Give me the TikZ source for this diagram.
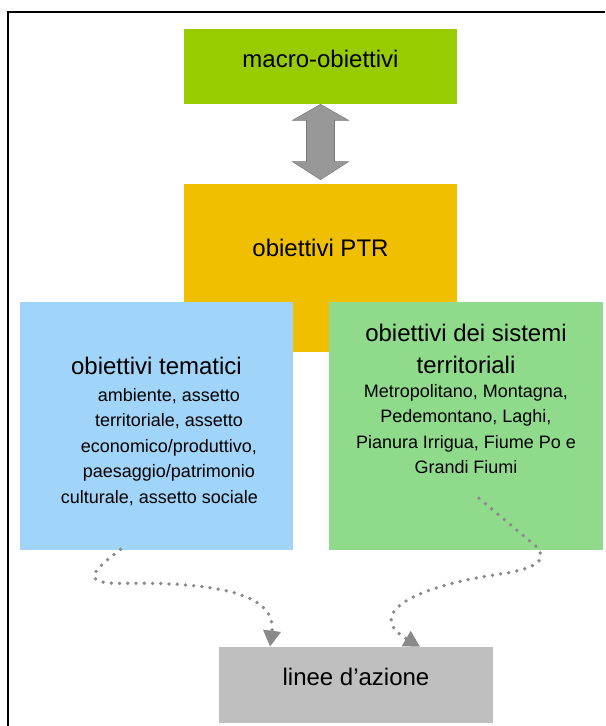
\documentclass[tikz,border=0pt]{standalone}
\usepackage{fontspec}
\setmainfont{Liberation Sans}
\usepackage{tikz}
\usetikzlibrary{arrows.meta, calc}
\definecolor{macrogreen}{RGB}{153,204,0}
\definecolor{ptryellow}{RGB}{240,192,0}
\definecolor{tematiciblue}{RGB}{160,212,248}
\definecolor{sistemigreen}{RGB}{144,218,140}
\definecolor{azionegrey}{RGB}{191,191,191}
\definecolor{arrowgrey}{RGB}{152,152,152}
\newcommand\ttl{\fontsize{13.66pt}{14.57pt}\selectfont}
\newcommand\sbt{\fontsize{10.24pt}{14.57pt}\selectfont}

\begin{document}
\begin{tikzpicture}[x=0.02cm, y=-0.02cm,
    box/.style={minimum width=5.46cm, inner sep=0pt, align=center, font=\ttl},
    dots/.style={draw=arrowgrey!90!black, line width=0.075cm, line cap=round,
                 dash pattern=on 0pt off 0.165cm,
                 -{Triangle[length=0.32cm, width=0.34cm]}}]
  \useasboundingbox (0,0) rectangle (605,726);
  % frame
  \draw[line width=0.04cm] (8,726) |- (605,12);

  \node[box, fill=macrogreen, minimum height=1.5cm, text depth=0.29cm] (macro) at (320.5,66.5) {macro-obiettivi};
  \node[box, fill=ptryellow, minimum height=3.36cm, text depth=0.79cm] (ptr) at (320.5,268) {obiettivi PTR};

  % double block arrow
  \filldraw[fill=arrowgrey, draw=arrowgrey!80!black, line width=0.3pt]
    (macro.south) -- ++(28,16) -- ++(-14,0) -- ($(ptr.north)+(14,-22)$) -- ++(14,0)
    -- ($(ptr.north)+(0,-4)$) -- ++(-28,-18) -- ++(14,0) -- ($(macro.south)+(-14,16)$)
    -- ++(-14,0) -- cycle;

  \node[box, fill=tematiciblue, minimum height=4.96cm, font=\sbt] (tematici) at (156.5,426)
    {{\ttl\rule{0pt}{0.56cm}obiettivi tematici}\\[0.028cm]
     \hspace*{0.5cm}ambiente, assetto\\
     \hspace*{0.5cm}territoriale, assetto\\
     \hspace*{0.5cm}economico/produttivo,\\
     \hspace*{0.5cm}paesaggio/patrimonio\\
     \hspace*{0.12cm}culturale, assetto sociale\rule[-0.052cm]{0pt}{0.052cm}};
  \node[box, fill=sistemigreen, minimum width=5.48cm, minimum height=4.96cm, font=\sbt] (sistemi) at (466,426)
    {{\ttl\rule{0pt}{0.4cm}obiettivi dei sistemi}\\[0.128cm]
     {\ttl territoriali}\\[-0.032cm]
     Metropolitano, Montagna,\\
     Pedemontano, Laghi,\\
     Pianura Irrigua, Fiume Po e\\
     Grandi Fiumi\rule[-1.144cm]{0pt}{1.144cm}};
  \node[box, fill=azionegrey, minimum width=5.48cm, minimum height=1.52cm, text depth=0.31cm] (azione) at (356,685) {linee d’azione};

  % dotted connectors
  \draw[dots] ($(tematici.south)+(-36,-1)$) .. controls +(-21,17) and +(-45,0) .. ($(tematici.south)+(-37,33)$)
    .. controls +(115,-2) and +(6,-47) .. ($(azione.north)+(-86,0)$);
  \draw[dots] ($(sistemi.south)+(13,-52)$) -- ($(sistemi.south)+(70,-4)$)
    .. controls +(9,10) and +(40,-7) .. ($(sistemi.south)+(39,23)$)
    .. controls +(-95,13) and +(-55,-32) .. ($(azione.north)+(64,0)$);
\end{tikzpicture}
\end{document}
